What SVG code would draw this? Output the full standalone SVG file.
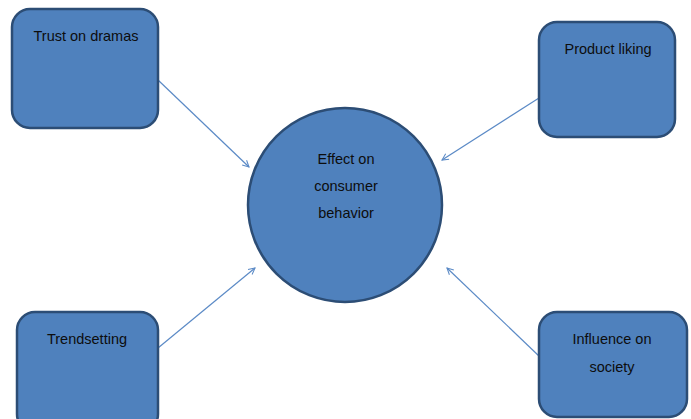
<svg xmlns="http://www.w3.org/2000/svg" width="691" height="419" viewBox="0 0 691 419">
<style>
.n{fill:#4f81bd;stroke:#2c4d75;stroke-width:2.5}
.t{font-family:"Liberation Sans",Arial,sans-serif;font-size:14.5px;fill:#0d0d0d;text-anchor:middle}
.c{stroke:#5b8ac6;stroke-width:1.2;fill:none;marker-end:url(#a)}
</style>
<defs>
<marker id="a" viewBox="0 0 10 10" refX="9" refY="5" markerWidth="8" markerHeight="8" orient="auto" markerUnits="userSpaceOnUse">
<path d="M1,1 L9,5 L1,9" fill="none" stroke="#5b8ac6" stroke-width="1.3"/>
</marker>
</defs>
<rect width="691" height="419" fill="#fff"/>
<g id="connectors">
<line class="c" x1="158" y1="80" x2="249" y2="167"/>
<line class="c" x1="539" y1="98" x2="442" y2="160"/>
<line class="c" x1="158" y1="348" x2="255" y2="268"/>
<line class="c" x1="540" y1="357" x2="447" y2="268"/>
</g>
<g id="trust">
<rect class="n" x="12" y="9" width="146" height="119" rx="18"/>
<text class="t" x="86" y="41">Trust on dramas</text>
</g>
<g id="product">
<rect class="n" x="539" y="22" width="136" height="115" rx="18"/>
<text class="t" x="608" y="54">Product liking</text>
</g>
<g id="trend">
<rect class="n" x="17" y="312" width="141" height="120" rx="18"/>
<text class="t" x="87" y="344">Trendsetting</text>
</g>
<g id="influence">
<rect class="n" x="539" y="312" width="148" height="105" rx="18"/>
<text class="t" x="612" y="344">Influence on</text>
<text class="t" x="612" y="372">society</text>
</g>
<g id="effect">
<circle class="n" cx="345" cy="205" r="97"/>
<text class="t" x="346" y="164">Effect on</text>
<text class="t" x="346" y="191">consumer</text>
<text class="t" x="346" y="218">behavior</text>
</g>
</svg>
